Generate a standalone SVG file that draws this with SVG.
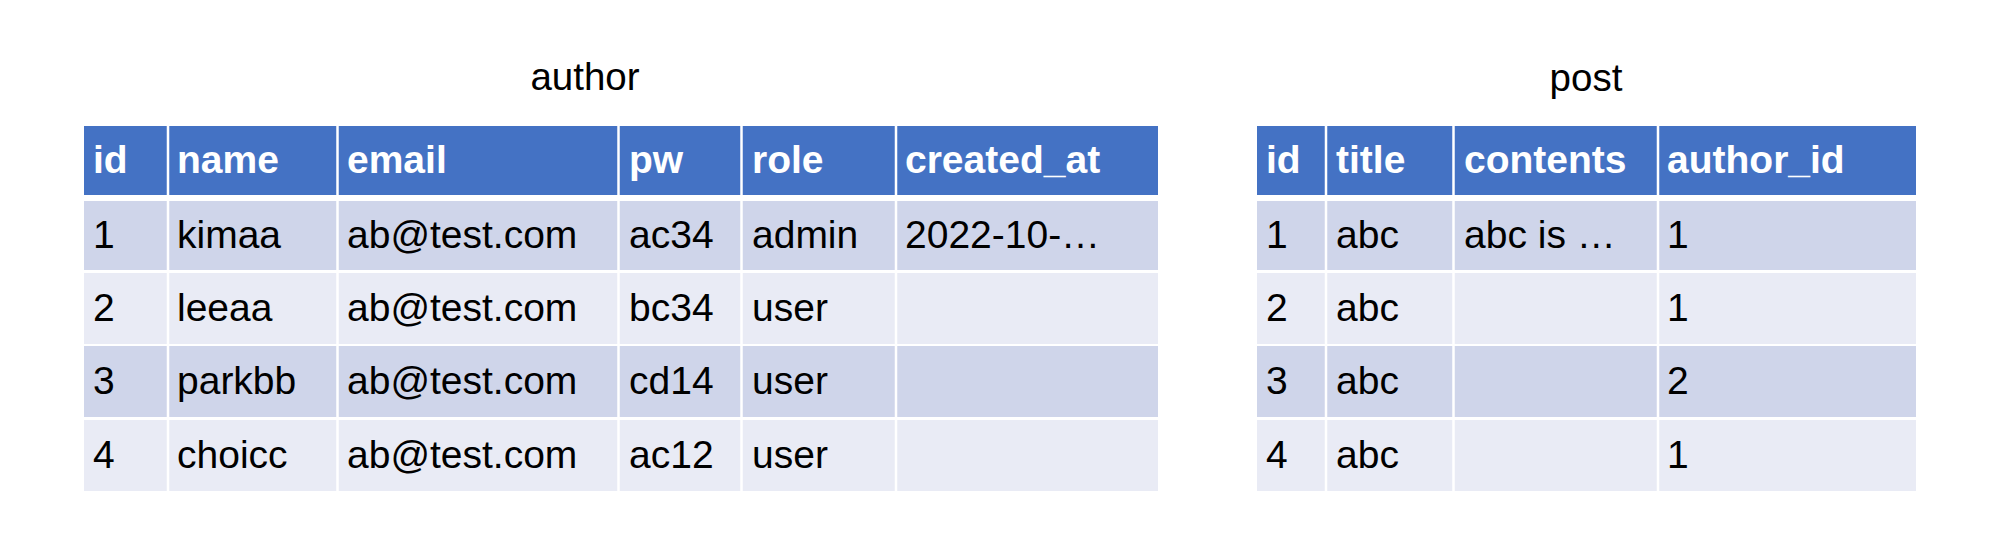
<svg xmlns="http://www.w3.org/2000/svg" width="2000" height="541" viewBox="0 0 2000 541">
<style>
.t{font-family:"Liberation Sans",Arial,Helvetica,sans-serif;font-size:39px;fill:#000}
.h{font-family:"Liberation Sans",Arial,Helvetica,sans-serif;font-size:39px;font-weight:bold;fill:#fff}
.title{font-family:"Liberation Sans",Arial,Helvetica,sans-serif;font-size:38.5px;fill:#000;text-anchor:middle}
.hd{fill:#4472C4}
.r1{fill:#CFD5EA}
.r2{fill:#E9EBF5}
.sep{stroke:#fff;stroke-width:2.5}
</style>
<rect width="2000" height="541" fill="#fff"/>
<g id="author">
<text class="title" x="585" y="90">author</text>
<rect class="hd" x="84" y="126" width="1074" height="69"/>
<rect class="r1" x="84" y="201" width="1074" height="69"/>
<rect class="r2" x="84" y="273" width="1074" height="71"/>
<rect class="r1" x="84" y="346" width="1074" height="71"/>
<rect class="r2" x="84" y="420" width="1074" height="71"/>
<g class="sep">
<line x1="168" y1="126" x2="168" y2="491"/>
<line x1="337.5" y1="126" x2="337.5" y2="491"/>
<line x1="618.5" y1="126" x2="618.5" y2="491"/>
<line x1="741.5" y1="126" x2="741.5" y2="491"/>
<line x1="896" y1="126" x2="896" y2="491"/>
</g>
<text class="h" x="93" y="173">id</text>
<text class="h" x="177" y="173">name</text>
<text class="h" x="347" y="173">email</text>
<text class="h" x="629" y="173">pw</text>
<text class="h" x="752" y="173">role</text>
<text class="h" x="905" y="173">created_at</text>
<text class="t" x="93" y="248">1</text>
<text class="t" x="177" y="248">kimaa</text>
<text class="t" x="347" y="248">ab@test.com</text>
<text class="t" x="629" y="248">ac34</text>
<text class="t" x="752" y="248">admin</text>
<text class="t" x="905" y="248">2022-10-…</text>
<text class="t" x="93" y="321">2</text>
<text class="t" x="177" y="321">leeaa</text>
<text class="t" x="347" y="321">ab@test.com</text>
<text class="t" x="629" y="321">bc34</text>
<text class="t" x="752" y="321">user</text>
<text class="t" x="93" y="394">3</text>
<text class="t" x="177" y="394">parkbb</text>
<text class="t" x="347" y="394">ab@test.com</text>
<text class="t" x="629" y="394">cd14</text>
<text class="t" x="752" y="394">user</text>
<text class="t" x="93" y="468">4</text>
<text class="t" x="177" y="468">choicc</text>
<text class="t" x="347" y="468">ab@test.com</text>
<text class="t" x="629" y="468">ac12</text>
<text class="t" x="752" y="468">user</text>
</g>
<g id="post">
<text class="title" x="1586" y="91">post</text>
<rect class="hd" x="1257" y="126" width="659" height="69"/>
<rect class="r1" x="1257" y="201" width="659" height="69"/>
<rect class="r2" x="1257" y="273" width="659" height="71"/>
<rect class="r1" x="1257" y="346" width="659" height="71"/>
<rect class="r2" x="1257" y="420" width="659" height="71"/>
<g class="sep">
<line x1="1326" y1="126" x2="1326" y2="491"/>
<line x1="1453.5" y1="126" x2="1453.5" y2="491"/>
<line x1="1658" y1="126" x2="1658" y2="491"/>
</g>
<text class="h" x="1266" y="173">id</text>
<text class="h" x="1336" y="173">title</text>
<text class="h" x="1464" y="173">contents</text>
<text class="h" x="1667" y="173">author_id</text>
<text class="t" x="1266" y="248">1</text>
<text class="t" x="1336" y="248">abc</text>
<text class="t" x="1464" y="248">abc is …</text>
<text class="t" x="1667" y="248">1</text>
<text class="t" x="1266" y="321">2</text>
<text class="t" x="1336" y="321">abc</text>
<text class="t" x="1667" y="321">1</text>
<text class="t" x="1266" y="394">3</text>
<text class="t" x="1336" y="394">abc</text>
<text class="t" x="1667" y="394">2</text>
<text class="t" x="1266" y="468">4</text>
<text class="t" x="1336" y="468">abc</text>
<text class="t" x="1667" y="468">1</text>
</g>
<g id="connectors"/>
</svg>
